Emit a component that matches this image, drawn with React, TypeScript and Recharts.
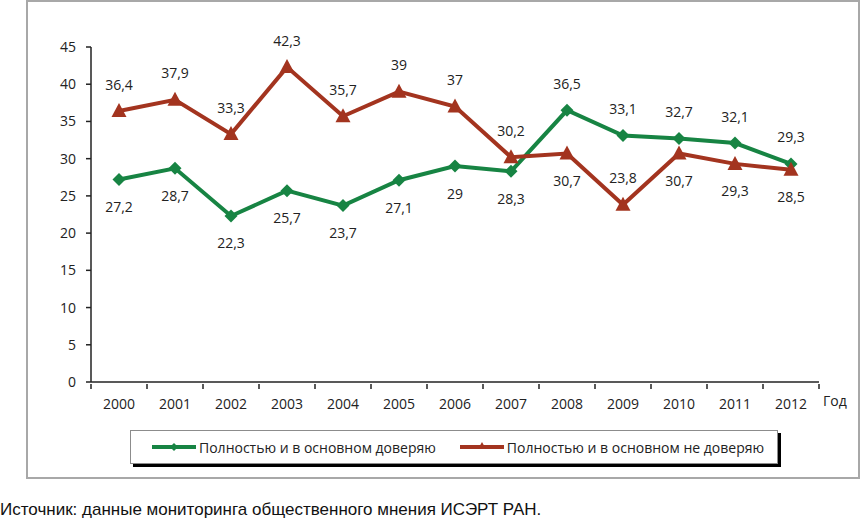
import { LineChart, Line, XAxis, YAxis, LabelList } from "recharts";

// ── Data ────────────────────────────────────────────────────────────────
const years = ["2000", "2001", "2002", "2003", "2004", "2005", "2006", "2007", "2008", "2009", "2010", "2011", "2012"];
const trust = [27.2, 28.7, 22.3, 25.7, 23.7, 27.1, 29, 28.3, 36.5, 33.1, 32.7, 32.1, 29.3];
const distrust = [36.4, 37.9, 33.3, 42.3, 35.7, 39, 37, 30.2, 30.7, 23.8, 30.7, 29.3, 28.5];
const yTicks = [0, 5, 10, 15, 20, 25, 30, 35, 40, 45];

// where each value label sits relative to its point
const trustLabelSide = ["down", "down", "down", "down", "down", "down", "down", "down", "up", "up", "up", "up", "up"];
const distrustLabelSide = ["up", "up", "up", "up", "up", "up", "up", "up", "down", "up", "down", "down", "down"];

const GREEN = "#178443";
const RED = "#a3341f";
const FONT = "'Open Sans', 'DejaVu Sans', sans-serif";
const BAND = 56;

const data = years.map((y, i) => ({ year: y, trust: trust[i], distrust: distrust[i] }));

const fmt = (v: number) => String(v).replace(".", ",");

function Diamond({ cx, cy }: any) {
  if (cx == null || cy == null) return null;
  const r = 6.5;
  return <path d={`M${cx},${cy - r}L${cx + r},${cy}L${cx},${cy + r}L${cx - r},${cy}Z`} fill={GREEN} />;
}

function Triangle({ cx, cy }: any) {
  if (cx == null || cy == null) return null;
  return <path d={`M${cx},${cy - 8}L${cx + 7.5},${cy + 6}L${cx - 7.5},${cy + 6}Z`} fill={RED} />;
}

function makeLabel(sides: string[]) {
  return (props: any) => {
    const { x, y, value, index } = props;
    const dy = sides[index] === "up" ? -27 : 27;
    return (
      <text x={x} y={y + dy} textAnchor="middle" dominantBaseline="central" fontFamily={FONT} fontSize={14} fill="#222">
        {fmt(value)}
      </text>
    );
  };
}

function YearTick({ x, y, payload, index }: any) {
  return (
    <g>
      <line x1={x - BAND / 2} x2={x - BAND / 2} y1={y} y2={y + 5} stroke="#222" strokeWidth={1.5} />
      {index === years.length - 1 && (
        <line x1={x + BAND / 2} x2={x + BAND / 2} y1={y} y2={y + 5} stroke="#222" strokeWidth={1.5} />
      )}
      <text x={x} y={y + 19} textAnchor="middle" dominantBaseline="central" fontFamily={FONT} fontSize={14} fill="#222">
        {payload.value}
      </text>
    </g>
  );
}

function LegendBox() {
  const item = (color: string, label: string, marker: JSX.Element) => (
    <span style={{ display: "inline-flex", alignItems: "center", whiteSpace: "nowrap" }}>
      <svg width={46} height={12} style={{ marginRight: 2 }}>
        <line x1={1} x2={45} y1={6} y2={6} stroke={color} strokeWidth={4} />
        {marker}
      </svg>
      <span>{label}</span>
    </span>
  );
  return (
    <div
      style={{
        position: "absolute",
        left: 130,
        top: 430,
        width: 648,
        height: 34,
        boxSizing: "border-box",
        border: "1px solid #8c8c8c",
        boxShadow: "3px 3px 0 #000",
        background: "#fff",
        display: "flex",
        alignItems: "center",
        fontFamily: FONT,
        fontSize: 14,
        color: "#222",
        paddingLeft: 20,
        gap: 23,
      }}
    >
      {item(GREEN, "Полностью и в основном доверяю", <path d="M23,2L27,6L23,10L19,6Z" fill={GREEN} />)}
      {item(RED, "Полностью и в основном не доверяю", <path d="M23,1L27,8L19,8Z" fill={RED} />)}
    </div>
  );
}

export default function App() {
  return (
    <div style={{ position: "absolute", left: 0, top: 0, width: 861, height: 521, background: "#fff" }}>
      <div
        style={{
          position: "absolute",
          left: 26,
          top: 0,
          width: 834,
          height: 479,
          boxSizing: "border-box",
          border: "2px solid #a8a8a8",
        }}
      />
      <div style={{ position: "absolute", left: 0, top: 0 }}>
        <LineChart width={861} height={480} data={data} margin={{ top: 47, right: 42, bottom: 68, left: 31 }}>
          <XAxis
            dataKey="year"
            tick={<YearTick />}
            tickLine={false}
            tickSize={0}
            height={30}
            padding={{ left: BAND / 2, right: BAND / 2 }}
            axisLine={{ stroke: "#222", strokeWidth: 1.5 }}
            interval={0}
          />
          <YAxis
            domain={[0, 45]}
            ticks={yTicks}
            width={60}
            tickSize={5}
            tickMargin={10}
            axisLine={{ stroke: "#222", strokeWidth: 1.5 }}
            tickLine={{ stroke: "#222", strokeWidth: 1.5 }}
            tick={{ fontFamily: FONT, fontSize: 14, fill: "#222" }}
          />
          <Line
            type="linear"
            dataKey="trust"
            stroke={GREEN}
            strokeWidth={4}
            dot={<Diamond />}
            activeDot={false}
            isAnimationActive={false}
          >
            <LabelList dataKey="trust" content={makeLabel(trustLabelSide)} />
          </Line>
          <Line
            type="linear"
            dataKey="distrust"
            stroke={RED}
            strokeWidth={4}
            dot={<Triangle />}
            activeDot={false}
            isAnimationActive={false}
          >
            <LabelList dataKey="distrust" content={makeLabel(distrustLabelSide)} />
          </Line>
        </LineChart>
      </div>
      <LegendBox />
      <div
        style={{
          position: "absolute",
          left: 823,
          top: 391,
          fontFamily: FONT,
          fontSize: 14,
          color: "#222",
        }}
      >
        Год
      </div>
      <div
        style={{
          position: "absolute",
          left: 0,
          top: 500,
          fontFamily: "'Liberation Sans Narrow', 'Liberation Sans', Arial, sans-serif",
          fontSize: 17,
          color: "#111",
          whiteSpace: "nowrap",
        }}
      >
        Источник: данные мониторинга общественного мнения ИСЭРТ РАН.
      </div>
    </div>
  );
}
